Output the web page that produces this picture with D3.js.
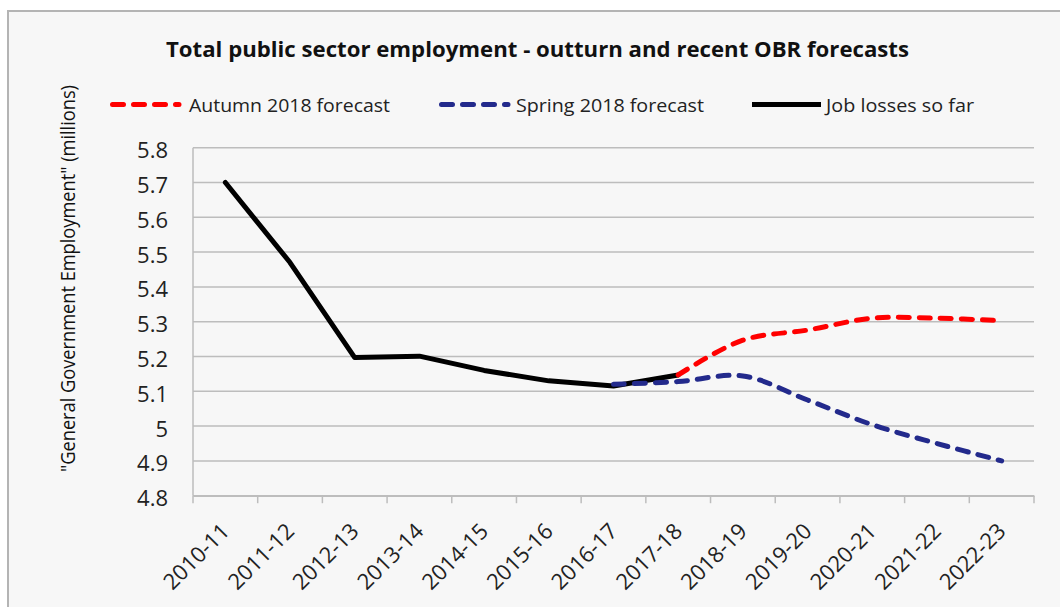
<!DOCTYPE html>
<html>
<head>
<meta charset="utf-8">
<script src="https://cdn.jsdelivr.net/npm/d3@7"></script>
<style>
  html, body { margin: 0; padding: 0; background: #ffffff; }
  svg { display: block; font-family: "Open Sans", "Noto Sans", sans-serif; }
</style>
</head>
<body>
<svg id="chart" width="1060" height="607"></svg>
<script>
// Financial years on the category axis
const years = ["2010-11", "2011-12", "2012-13", "2013-14", "2014-15", "2015-16", "2016-17",
               "2017-18", "2018-19", "2019-20", "2020-21", "2021-22", "2022-23"];

// Outturn so far (millions), 2010-11 to 2017-18
const outturnYears = ["2010-11", "2011-12", "2012-13", "2013-14", "2014-15", "2015-16", "2016-17", "2017-18"];
const outturn = [5.70, 5.47, 5.197, 5.201, 5.16, 5.13, 5.115, 5.147];

// OBR Autumn 2018 forecast, 2017-18 to 2022-23
const autumnYears = ["2017-18", "2018-19", "2019-20", "2020-21", "2021-22", "2022-23"];
const autumn = [5.147, 5.247, 5.276, 5.31, 5.31, 5.303];

// OBR Spring 2018 forecast, 2016-17 to 2022-23
const springYears = ["2016-17", "2017-18", "2018-19", "2019-20", "2020-21", "2021-22", "2022-23"];
const spring = [5.12, 5.128, 5.144, 5.075, 5.004, 4.95, 4.90];

// Value axis ticks and their labels
const yTicks = [4.8, 4.9, 5.0, 5.1, 5.2, 5.3, 5.4, 5.5, 5.6, 5.7, 5.8];
const yTickLabels = ["4.8", "4.9", "5", "5.1", "5.2", "5.3", "5.4", "5.5", "5.6", "5.7", "5.8"];

const legendLabels = ["Autumn 2018 forecast", "Spring 2018 forecast", "Job losses so far"];
const titleText = "Total public sector employment - outturn and recent OBR forecasts";
const yAxisTitle = "\"General Government Employment\" (millions)";

const svg = d3.select("#chart");

// chart frame
svg.append("rect")
  .attr("x", 8).attr("y", 11).attr("width", 1070).attr("height", 610)
  .attr("fill", "#f7f7f7").attr("stroke", "#b4b4b4").attr("stroke-width", 2);

const plot = { left: 193, right: 1034, top: 147.7, bottom: 495.7 };

const x = d3.scaleBand().domain(years).range([plot.left, plot.right]).padding(0);
const y = d3.scaleLinear().domain([4.8, 5.8]).range([plot.bottom, plot.top]);
const cx = d => x(d) + x.bandwidth() / 2;

// horizontal gridlines
svg.append("g")
  .selectAll("line").data(yTicks).join("line")
  .attr("x1", plot.left).attr("x2", plot.right)
  .attr("y1", d => y(d)).attr("y2", d => y(d))
  .attr("stroke", "#bdbdbd").attr("stroke-width", 1.5);

// value axis line
svg.append("line")
  .attr("x1", plot.left).attr("x2", plot.left)
  .attr("y1", plot.top).attr("y2", plot.bottom)
  .attr("stroke", "#bdbdbd").attr("stroke-width", 1.5);

// value axis labels
svg.append("g")
  .selectAll("text").data(yTicks).join("text")
  .attr("x", 168).attr("y", d => y(d) + 10.5)
  .attr("text-anchor", "end")
  .attr("font-size", 22).attr("fill", "#222")
  .text((d, i) => yTickLabels[i]);

// category axis with tick marks between categories
const xAxis = d3.axisBottom(x).tickSize(0).tickFormat("");
const gx = svg.append("g").attr("transform", `translate(0,${plot.bottom})`).call(xAxis);
gx.select(".domain").attr("stroke", "#bdbdbd").attr("stroke-width", 1.5);
const edges = years.map(d => x(d)).concat([plot.right]);
svg.append("g")
  .selectAll("line").data(edges).join("line")
  .attr("x1", d => d).attr("x2", d => d)
  .attr("y1", plot.bottom).attr("y2", plot.bottom + 7.5)
  .attr("stroke", "#bdbdbd").attr("stroke-width", 1.5);

// rotated category labels
svg.append("g")
  .selectAll("text").data(years).join("text")
  .attr("text-anchor", "end")
  .attr("transform", d => `translate(${cx(d) + 5.5},${plot.bottom + 37}) rotate(-45)`)
  .attr("font-size", 22).attr("fill", "#222")
  .text(d => d);

// series lines
const pair = (ys, vs) => ys.map((yr, i) => ({ year: yr, value: vs[i] }));

const straight = d3.line()
  .x(d => cx(d.year))
  .y(d => y(d.value))
  .curve(d3.curveLinear);

const smooth = d3.line()
  .x(d => cx(d.year))
  .y(d => y(d.value))
  .curve(d3.curveCatmullRom.alpha(0.5));

svg.append("path")
  .datum(pair(outturnYears, outturn))
  .attr("d", straight)
  .attr("fill", "none").attr("stroke", "#000000")
  .attr("stroke-width", 5).attr("stroke-linejoin", "round").attr("stroke-linecap", "round");

svg.append("path")
  .datum(pair(springYears, spring))
  .attr("d", smooth)
  .attr("fill", "none").attr("stroke", "#232a8c")
  .attr("stroke-width", 5).attr("stroke-linecap", "round")
  .attr("stroke-dasharray", "11,10");

svg.append("path")
  .datum(pair(autumnYears, autumn))
  .attr("d", smooth)
  .attr("fill", "none").attr("stroke", "#ff0000")
  .attr("stroke-width", 5).attr("stroke-linecap", "round")
  .attr("stroke-dasharray", "11,10");

// title
svg.append("text")
  .attr("x", 537.5).attr("y", 57)
  .attr("text-anchor", "middle")
  .attr("font-size", 22).attr("font-weight", "bold").attr("fill", "#111")
  .attr("textLength", 743).attr("lengthAdjust", "spacingAndGlyphs")
  .text(titleText);

// value axis title
svg.append("text")
  .attr("transform", "translate(75,278.5) rotate(-90)")
  .attr("text-anchor", "middle")
  .attr("font-size", 20).attr("fill", "#111")
  .attr("textLength", 387).attr("lengthAdjust", "spacingAndGlyphs")
  .text(yAxisTitle);

// legend
const legendItems = [
  { label: legendLabels[0], color: "#ff0000", dash: "11,10", x1: 112.5, x2: 179, tx: 189, tw: 201 },
  { label: legendLabels[1], color: "#232a8c", dash: "11,10", x1: 441.5, x2: 508, tx: 516, tw: 188 },
  { label: legendLabels[2], color: "#000000", dash: null, x1: 752, x2: 821, tx: 826, tw: 148 }
];
const lg = svg.append("g").selectAll("g").data(legendItems).join("g");
lg.append("line")
  .attr("x1", d => d.x1).attr("x2", d => d.x2)
  .attr("y1", 104.5).attr("y2", 104.5)
  .attr("stroke", d => d.color).attr("stroke-width", 5)
  .attr("stroke-linecap", d => d.dash ? "round" : "butt")
  .attr("stroke-dasharray", d => d.dash);
lg.append("text")
  .attr("x", d => d.tx).attr("y", 111.5)
  .attr("font-size", 19).attr("fill", "#222")
  .attr("textLength", d => d.tw).attr("lengthAdjust", "spacingAndGlyphs")
  .text(d => d.label);
</script>
</body>
</html>
